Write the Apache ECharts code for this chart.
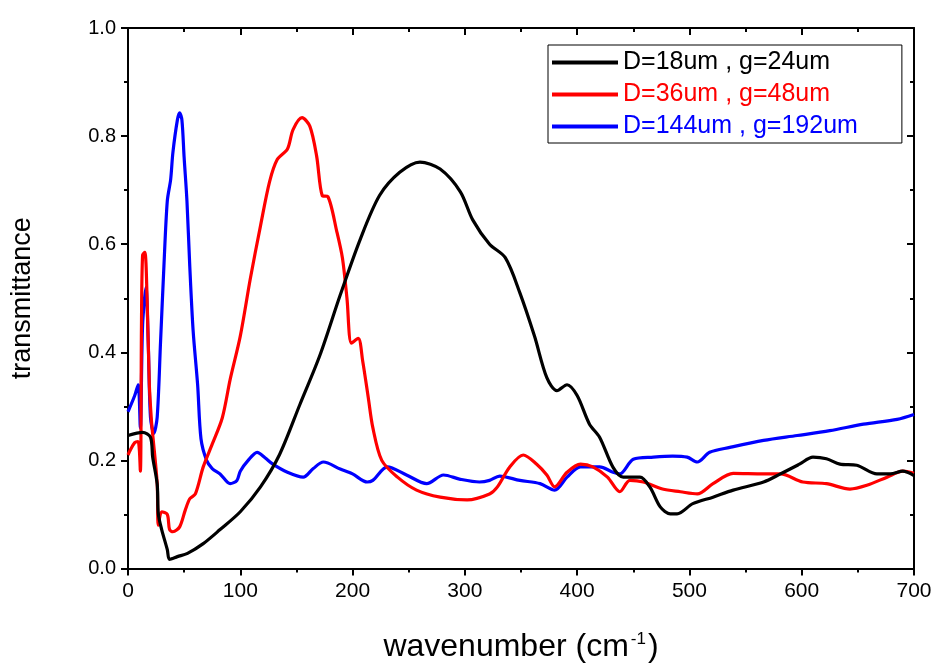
<!DOCTYPE html>
<html>
<head>
<meta charset="utf-8">
<script src="https://cdn.jsdelivr.net/npm/echarts@6/dist/echarts.min.js"></script>
<style>
  html, body { margin: 0; padding: 0; background: #fff; }
  #chart { width: 937px; height: 668px; }
</style>
</head>
<body>
<div id="chart"></div>
<script>
// series labels
const seriesNames = ['D=18um , g=24um', 'D=36um , g=48um', 'D=144um , g=192um'];
const seriesColors = ['#000000', '#ff0000', '#0000ff'];

// D=18um , g=24um  [wavenumber, transmittance]
const blackX = [0, 13, 20, 22, 26, 27, 30, 35, 37, 44, 53, 67, 82, 100, 118, 135, 153, 171, 189, 207, 224, 242, 260, 278, 296, 307, 322, 336, 349, 362, 373, 382, 391, 400, 411, 420, 432, 441, 456, 465, 474, 483, 489, 503, 521, 539, 566, 581, 598, 610, 622, 634, 649, 667, 679, 690, 700];
const blackY = [0.246, 0.252, 0.243, 0.206, 0.156, 0.101, 0.072, 0.035, 0.017, 0.022, 0.028, 0.046, 0.072, 0.105, 0.151, 0.211, 0.303, 0.395, 0.506, 0.61, 0.69, 0.733, 0.752, 0.739, 0.697, 0.645, 0.6, 0.575, 0.51, 0.43, 0.353, 0.329, 0.34, 0.32, 0.267, 0.243, 0.187, 0.169, 0.169, 0.15, 0.114, 0.101, 0.101, 0.12, 0.132, 0.145, 0.16, 0.175, 0.193, 0.206, 0.203, 0.193, 0.191, 0.175, 0.175, 0.18, 0.172];

// D=36um , g=48um
const redX = [0, 2, 6, 9, 11, 12, 13, 15, 17, 19, 21, 22, 26, 27, 30, 35, 37, 40, 46, 51, 55, 60, 67, 75, 84, 91, 100, 109, 118, 126, 133, 142, 147, 155, 162, 168, 173, 178, 186, 191, 195, 199, 205, 209, 214, 218, 226, 240, 257, 278, 302, 322, 329, 340, 352, 364, 373, 380, 391, 403, 414, 427, 438, 447, 459, 476, 492, 507, 521, 539, 566, 581, 601, 622, 643, 658, 676, 690, 700];
const redY = [0.21, 0.219, 0.233, 0.235, 0.18, 0.45, 0.58, 0.585, 0.5, 0.34, 0.27, 0.248, 0.157, 0.08, 0.105, 0.1, 0.072, 0.068, 0.077, 0.108, 0.129, 0.138, 0.188, 0.23, 0.279, 0.35, 0.43, 0.537, 0.634, 0.715, 0.757, 0.776, 0.812, 0.834, 0.818, 0.763, 0.69, 0.688, 0.623, 0.574, 0.5, 0.417, 0.426, 0.384, 0.316, 0.261, 0.2, 0.169, 0.145, 0.132, 0.127, 0.138, 0.151, 0.188, 0.21, 0.193, 0.173, 0.151, 0.178, 0.193, 0.188, 0.169, 0.142, 0.163, 0.16, 0.147, 0.142, 0.138, 0.157, 0.176, 0.175, 0.175, 0.16, 0.157, 0.147, 0.154, 0.169, 0.18, 0.176];

// D=144um , g=192um
const blueX = [0, 6, 9, 11, 13, 16, 18, 20, 23, 26, 29, 32, 35, 38, 40, 44, 46, 48, 50, 52.5, 55, 58, 62, 65, 70, 75, 82, 91, 97, 100, 107, 115, 122, 129, 142, 156, 165, 174, 189, 200, 213, 218, 231, 248, 266, 281, 296, 313, 322, 331, 349, 367, 380, 391, 403, 420, 432, 438, 450, 468, 485, 498, 507, 518, 536, 566, 596, 625, 655, 685, 700];
const blueY = [0.29, 0.32, 0.34, 0.26, 0.45, 0.52, 0.42, 0.28, 0.25, 0.28, 0.42, 0.56, 0.68, 0.72, 0.77, 0.83, 0.843, 0.83, 0.76, 0.68, 0.56, 0.44, 0.34, 0.24, 0.2, 0.185, 0.175, 0.157, 0.163, 0.18, 0.2, 0.215, 0.205, 0.193, 0.178, 0.169, 0.185, 0.197, 0.184, 0.175, 0.16, 0.163, 0.188, 0.173, 0.157, 0.173, 0.165, 0.16, 0.163, 0.171, 0.163, 0.157, 0.145, 0.169, 0.188, 0.188, 0.178, 0.175, 0.202, 0.206, 0.208, 0.206, 0.197, 0.215, 0.224, 0.237, 0.246, 0.255, 0.267, 0.276, 0.285];

const xTicks = [0, 100, 200, 300, 400, 500, 600, 700];
const yTicks = [0.0, 0.2, 0.4, 0.6, 0.8, 1.0];

const pairs = (xs, ys) => xs.map((x, i) => [x, ys[i]]);
const seriesData = [pairs(blackX, blackY), pairs(redX, redY), pairs(blueX, blueY)];

const chart = echarts.init(document.getElementById('chart'));

const sans = "'Liberation Sans', Arial, sans-serif";

const axisBase = {
  type: 'value',
  axisLine: { show: true, onZero: false, lineStyle: { color: '#000', width: 2 } },
  splitLine: { show: false },
  minorTick: { show: true, splitNumber: 2, length: 4, lineStyle: { color: '#000', width: 2 } },
};

const option = {
  animation: false,
  backgroundColor: '#fff',
  grid: { left: 128, right: 23, top: 28, bottom: 96, containLabel: false },
  legend: {
    left: 548,
    top: 45,
    orient: 'vertical',
    itemWidth: 66,
    itemHeight: 4,
    itemGap: 7,
    padding: [5, 44, 4, 4],
    borderColor: '#000',
    borderWidth: 1,
    borderRadius: 0,
    backgroundColor: '#fff',
    textStyle: { fontFamily: sans, fontSize: 25 },
    data: seriesNames.map((n, i) => ({ name: n, icon: 'rect', textStyle: { color: seriesColors[i] } })),
  },
  xAxis: [
    {
      ...axisBase,
      position: 'bottom',
      min: xTicks[0],
      max: xTicks[xTicks.length - 1],
      interval: 100,
      axisTick: { show: true, inside: false, length: 7, lineStyle: { color: '#000', width: 2 } },
      axisLabel: { color: '#000', fontFamily: sans, fontSize: 21, margin: 12 },
      name: '{a|wavenumber (cm}{s|-1}{a|)}',
      nameLocation: 'middle',
      nameGap: 62,
      nameTextStyle: {
        rich: {
          a: { fontFamily: sans, fontSize: 32, color: '#000' },
          s: { fontFamily: sans, fontSize: 17, color: '#000', verticalAlign: 'top', padding: [0, 2, 16, 2] },
        },
      },
    },
    {
      ...axisBase,
      position: 'top',
      min: xTicks[0],
      max: xTicks[xTicks.length - 1],
      interval: 100,
      axisTick: { show: true, inside: true, length: 7, lineStyle: { color: '#000', width: 2 } },
      axisLabel: { show: false },
    },
  ],
  yAxis: [
    {
      ...axisBase,
      position: 'left',
      min: yTicks[0],
      max: yTicks[yTicks.length - 1],
      interval: 0.2,
      axisTick: { show: true, inside: false, length: 7, lineStyle: { color: '#000', width: 2 } },
      axisLabel: { color: '#000', fontFamily: sans, fontSize: 20, margin: 12, formatter: v => v.toFixed(1) },
      name: 'transmittance',
      nameLocation: 'middle',
      nameGap: 92,
      nameTextStyle: { fontFamily: sans, fontSize: 27, color: '#000' },
    },
    {
      ...axisBase,
      position: 'right',
      min: yTicks[0],
      max: yTicks[yTicks.length - 1],
      interval: 0.2,
      axisTick: { show: true, inside: true, length: 7, lineStyle: { color: '#000', width: 2 } },
      axisLabel: { show: false },
    },
  ],
  series: seriesNames.map((n, i) => ({
    name: n,
    type: 'line',
    xAxisIndex: 0,
    yAxisIndex: 0,
    data: seriesData[i],
    smooth: 0.3,
    showSymbol: false,
    color: seriesColors[i],
    lineStyle: { color: seriesColors[i], width: 3.2 },
    z: 3 - i,
  })),
};

chart.setOption(option);
</script>
</body>
</html>
